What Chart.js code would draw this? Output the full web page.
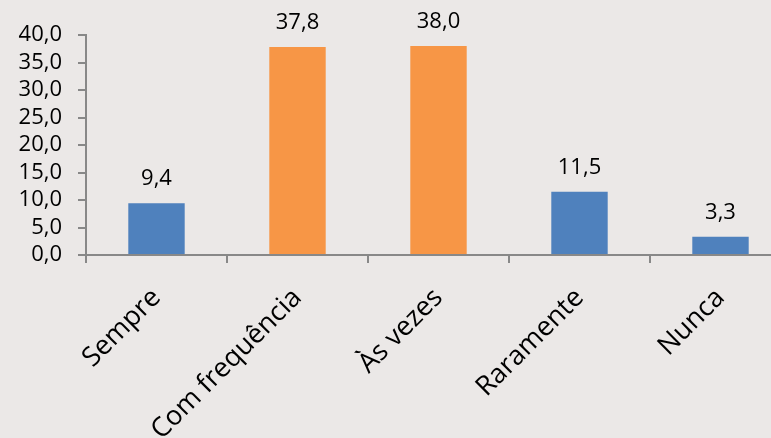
<!DOCTYPE html>
<html>
<head>
<meta charset="utf-8">
<script src="https://cdn.jsdelivr.net/npm/chart.js@4"></script>
<style>
  html, body { margin: 0; padding: 0; background: #ebe8e7; overflow: hidden; }
  #wrap { width: 800px; height: 438px; }
</style>
</head>
<body>
<div id="wrap"><canvas id="grafico"></canvas></div>
<script>
// dados do grafico
const categorias = ["Sempre", "Com frequência", "Às vezes", "Raramente", "Nunca"];
const valores = [9.4, 37.8, 38.0, 11.5, 3.3];
const cores = ["#4f81bd", "#f79646", "#f79646", "#4f81bd", "#4f81bd"];
const yMax = 40;
const yPasso = 5;

const fonte = "'Open Sans', sans-serif";
const corEixo = "#888888";

function formatar(v) {
    return v.toFixed(1).replace(".", ",");
}

// escreve o valor acima de cada barra
const rotulosBarras = {
    id: "rotulosBarras",
    afterDatasetsDraw(chart) {
        let ctx = chart.ctx;
        let meta = chart.getDatasetMeta(0);
        ctx.save();
        ctx.font = "22px " + fonte;
        ctx.fillStyle = "#000";
        ctx.textAlign = "center";
        ctx.textBaseline = "alphabetic";
        meta.data.forEach(function (bar, i) {
            ctx.fillText(formatar(valores[i]), bar.x, bar.y - 18);
        });
        ctx.restore();
    }
};

new Chart("grafico", {
    type: "bar",
    data: {
        labels: categorias,
        datasets: [{
            data: valores,
            backgroundColor: cores,
            barPercentage: 0.4,
            categoryPercentage: 1.0
        }]
    },
    options: {
        responsive: true,
        maintainAspectRatio: false,
        animation: false,
        layout: { padding: { top: 35, right: 9, left: 0, bottom: 0 } },
        plugins: {
            legend: { display: false },
            tooltip: { enabled: false }
        },
        scales: {
            x: {
                afterFit: s => { s.height = 183; },
                grid: {
                    display: true,
                    offset: true,
                    drawOnChartArea: false,
                    drawTicks: true,
                    tickLength: 8,
                    color: corEixo,
                    lineWidth: 2
                },
                border: { color: corEixo, width: 2 },
                ticks: {
                    color: "#000",
                    font: { family: fonte, size: 27 },
                    maxRotation: 45,
                    minRotation: 45,
                    autoSkip: false,
                    padding: 19
                }
            },
            y: {
                min: 0,
                max: yMax,
                afterFit: s => { s.width = 86; },
                grid: {
                    display: true,
                    drawOnChartArea: false,
                    drawTicks: true,
                    tickLength: 8,
                    color: corEixo,
                    lineWidth: 2
                },
                border: { color: corEixo, width: 2 },
                ticks: {
                    stepSize: yPasso,
                    autoSkip: false,
                    color: "#000",
                    font: { family: fonte, size: 22 },
                    padding: 16,
                    callback: v => formatar(v)
                }
            }
        }
    },
    plugins: [rotulosBarras]
});
</script>
</body>
</html>
